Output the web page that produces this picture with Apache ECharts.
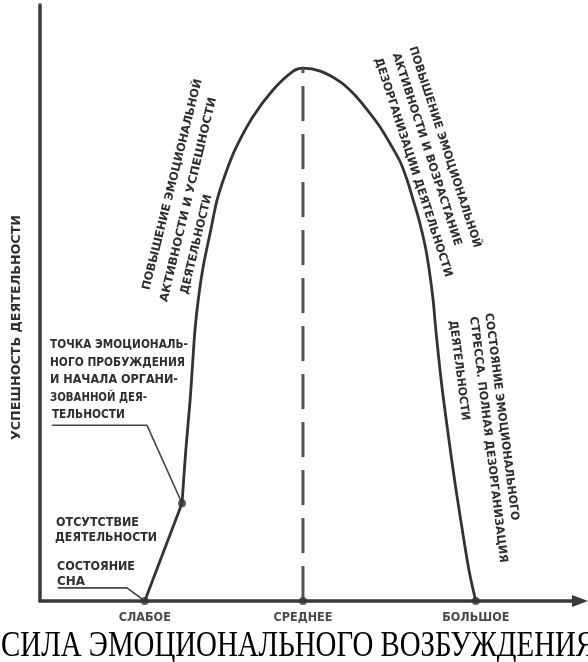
<!DOCTYPE html>
<html><head><meta charset="utf-8">
<script src="https://cdn.jsdelivr.net/npm/echarts@6/dist/echarts.min.js"></script>
<style>html,body{margin:0;padding:0;background:#fff}#c{width:588px;height:662px}</style>
</head><body><div id="c"></div>
<script>
// ---- data (arbitrary 0-100 units) ----
const tickValues = [19.4, 48.7, 80.7];
const tickNames = ['СЛАБОЕ', 'СРЕДНЕЕ', 'БОЛЬШОЕ'];
const rampX = [19.4, 26.3];
const rampY = [0, 16.4];
const curveX = [26.3, 27.0, 27.8, 28.3, 28.7, 29.3, 30.2, 31.5, 32.8, 34.4, 36.1, 39.4, 43.1, 46.9, 48.7,
                51.9, 55.6, 58.3, 60.6, 63.0, 64.8, 66.7, 68.0, 69.1, 70.2, 71.3, 72.0, 72.8, 73.3, 74.4, 75.6, 76.9, 78.7, 79.6, 80.7];
const curveY = [16.4, 25.3, 33.7, 40.4, 45.5, 50.5, 56.0, 61.7, 67.3, 71.8, 75.7, 81.2, 85.7, 88.9, 89.4,
                88.9, 87.1, 84.9, 82.4, 79.5, 76.8, 73.7, 70.6, 67.3, 63.9, 59.7, 56.0, 50.5, 45.5, 36.2, 27.9, 19.5, 9.1, 4.4, 0];
const peakX = [48.7, 48.7];
const peakY = [0, 89.4];
const dotX = [19.4, 26.3, 48.7, 80.7];
const dotY = [0, 16.4, 0, 0];
const leaderAwakeX = [2.2, 19.8, 26.3];
const leaderAwakeY = [29.5, 29.5, 16.4];
const leaderSleepX = [3.3, 16.1, 19.4];
const leaderSleepY = [2.2, 2.2, 0];

const zip = (xs, ys) => xs.map((x, i) => [x, ys[i]]);

// ---- styles ----
const sans = '"DejaVu Sans Condensed", "DejaVu Sans", sans-serif';
const serif = '"Liberation Serif", "DejaVu Serif", serif';
const ink = '#333';

const chart = echarts.init(document.getElementById('c'), null, {renderer: 'canvas'});

chart.setOption({
  animation: false,
  backgroundColor: '#fff',
  grid: {left: 40, right: 8, top: 5, bottom: 61},
  xAxis: {
    type: 'value', min: 0, max: 100,
    axisLine: {show: true, onZero: false, symbol: ['none', 'triangle'], symbolSize: [12, 16],
               lineStyle: {color: '#3a3a3a', width: 3.5}},
    axisTick: {show: false}, splitLine: {show: false},
    axisLabel: {
      customValues: tickValues,
      formatter: v => { const i = tickValues.findIndex(t => Math.abs(t - v) < 1e-6); return i >= 0 ? tickNames[i] : ''; },
      margin: 10, fontFamily: sans, fontWeight: 'bold', fontSize: 12.5, color: '#4a4a4a'
    }
  },
  yAxis: {
    type: 'value', min: 0, max: 100,
    axisLine: {show: true, onZero: false, lineStyle: {color: '#3a3a3a', width: 3.5}},
    axisTick: {show: false}, splitLine: {show: false}, axisLabel: {show: false}
  },
  series: [
    {type: 'line', data: zip(rampX, rampY), symbol: 'none', silent: true,
     lineStyle: {color: ink, width: 2.8}},
    {type: 'line', data: zip(curveX, curveY), symbol: 'none', smooth: 0.3, silent: true,
     lineStyle: {color: ink, width: 2.8}},
    {type: 'line', data: zip(peakX, peakY), symbol: 'none', silent: true,
     lineStyle: {color: '#555', width: 3, type: [35, 13]}},
    {type: 'line', data: zip(leaderAwakeX, leaderAwakeY), symbol: 'none', silent: true,
     lineStyle: {color: '#444', width: 1.6}},
    {type: 'line', data: zip(leaderSleepX, leaderSleepY), symbol: 'none', silent: true,
     lineStyle: {color: '#444', width: 1.6}},
    {type: 'scatter', data: zip(dotX, dotY), symbolSize: 8, silent: true, z: 5,
     itemStyle: {color: ink}}
  ]
});

// ---- annotation text (anchors in data units; angle in degrees; len = target length in px) ----
const notes = [
  {t: 'ТОЧКА ЭМОЦИОНАЛЬ-', at: [1.85, 42.95], rot: 0, len: 138, size: 12},
  {t: 'НОГО ПРОБУЖДЕНИЯ', at: [1.85, 39.9], rot: 0, len: 135, size: 12},
  {t: 'И НАЧАЛА ОРГАНИ-', at: [1.85, 37.1], rot: 0, len: 128, size: 12},
  {t: 'ЗОВАННОЙ ДЕЯ-', at: [1.85, 34.1], rot: 0, len: 97, size: 12},
  {t: 'ТЕЛЬНОСТИ', at: [2.2, 31.2], rot: 0, len: 73, size: 12},
  {t: 'ОТСУТСТВИЕ', at: [2.96, 13.1], rot: 0, len: 83, size: 12},
  {t: 'ДЕЯТЕЛЬНОСТИ', at: [2.78, 10.6], rot: 0, len: 102, size: 12},
  {t: 'СОСТОЯНИЕ', at: [3.15, 5.7], rot: 0, len: 78, size: 12},
  {t: 'СНА', at: [3.15, 3.2], rot: 0, len: 28, size: 12},

  {t: 'ПОВЫШЕНИЕ ЭМОЦИОНАЛЬНОЙ', at: [19.7, 52.2], rot: 76, len: 217, size: 11.5},
  {t: 'АКТИВНОСТИ И УСПЕШНОСТИ', at: [23.0, 50.2], rot: 76.5, len: 210, size: 11.5},
  {t: 'ДЕЯТЕЛЬНОСТИ', at: [26.8, 51.5], rot: 76.5, len: 102, size: 11.5},

  {t: 'ПОВЫШЕНИЕ ЭМОЦИОНАЛЬНОЙ', at: [68.9, 93.0], rot: -72, len: 211, size: 11.5},
  {t: 'АКТИВНОСТИ И ВОЗРАСТАНИЕ', at: [65.8, 91.9], rot: -72, len: 202, size: 11.5},
  {t: 'ДЕЗОРГАНИЗАЦИИ ДЕЯТЕЛЬНОСТИ', at: [62.5, 91.1], rot: -72, len: 230, size: 11.5},

  {t: 'СОСТОЯНИЕ ЭМОЦИОНАЛЬНОГО', at: [83.0, 48.3], rot: -82.7, len: 209, size: 11.5},
  {t: 'СТРЕССА. ПОЛНАЯ ДЕЗОРГАНИЗАЦИЯ', at: [80.2, 47.7], rot: -83, len: 248, size: 11.5},
  {t: 'ДЕЯТЕЛЬНОСТИ', at: [76.4, 47.1], rot: -82.7, len: 101, size: 11.5},

  {t: 'УСПЕШНОСТЬ ДЕЯТЕЛЬНОСТИ', at: [-4.26, 27.0], rot: 90, len: 225, size: 12},
  {t: 'СИЛА ЭМОЦИОНАЛЬНОГО ВОЗБУЖДЕНИЯ', at: [-7.2, -7.7], rot: 0, len: 594, size: 35,
   family: serif, weight: 'normal', color: '#000'}
];

const mctx = document.createElement('canvas').getContext('2d');
function noteEl(n) {
  const p = chart.convertToPixel({gridIndex: 0}, n.at);
  const weight = n.weight || 'bold';
  const family = n.family || sans;
  const font = weight + ' ' + n.size + 'px ' + family;
  mctx.font = font;
  const w = mctx.measureText(n.t).width || 1;
  return {
    type: 'text', x: p[0], y: p[1], rotation: n.rot * Math.PI / 180,
    scaleX: n.len / w, scaleY: 1, silent: true, z: 100,
    style: {text: n.t, font: font, fill: n.color || '#2e2e2e',
            align: 'left', verticalAlign: 'middle', textAlign: 'left', textVerticalAlign: 'middle'}
  };
}
chart.setOption({graphic: {elements: notes.map(noteEl)}});
</script>
</body></html>
